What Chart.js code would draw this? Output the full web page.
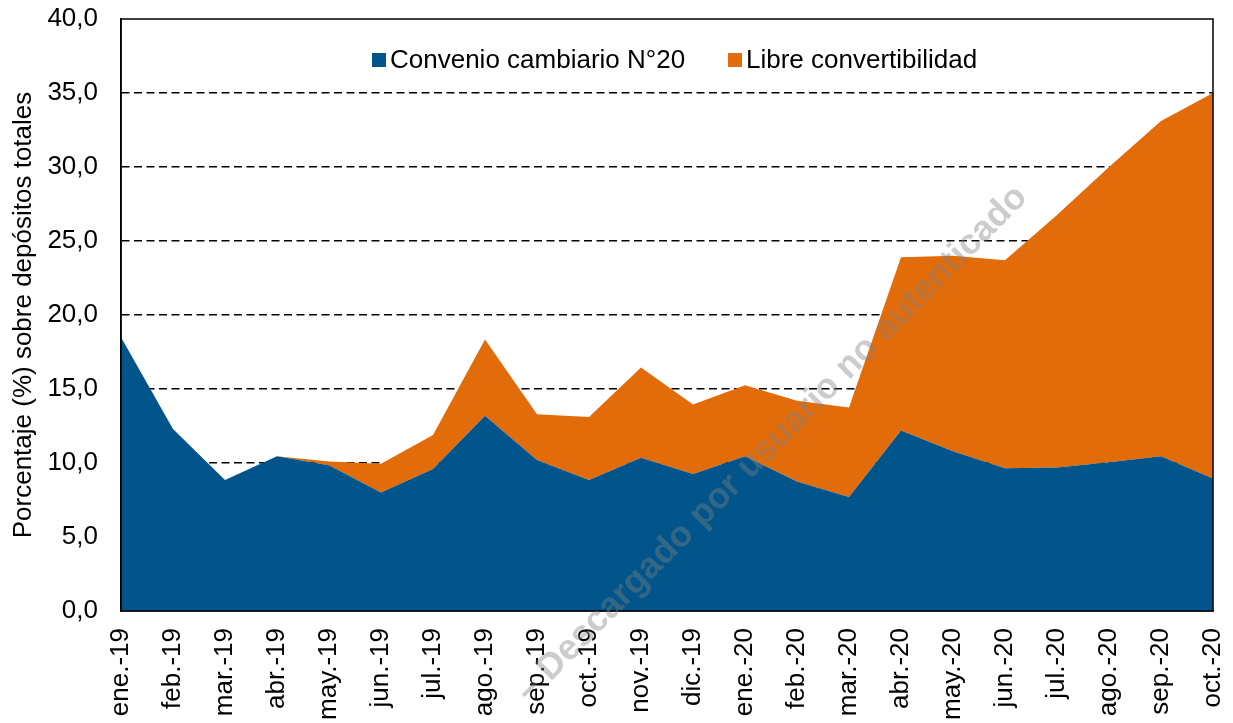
<!DOCTYPE html>
<html>
<head>
<meta charset="utf-8">
<script src="https://cdn.jsdelivr.net/npm/chart.js@4.4.1/dist/chart.umd.min.js"></script>
<style>
html,body{margin:0;padding:0;background:#fff}
#wrap{width:1233px;height:723px}
</style>
</head>
<body>
<div id="wrap"><canvas id="c" width="1233" height="723"></canvas></div>
<script>
// datos
const meses=['ene.-19','feb.-19','mar.-19','abr.-19','may.-19','jun.-19','jul.-19','ago.-19','sep.-19','oct.-19','nov.-19','dic.-19',
 'ene.-20','feb.-20','mar.-20','abr.-20','may.-20','jun.-20','jul.-20','ago.-20','sep.-20','oct.-20'];
const convenio=[18.5,12.3,8.85,10.45,9.85,8.0,9.6,13.2,10.2,8.85,10.35,9.25,10.45,8.75,7.7,12.2,10.8,9.65,9.7,10.05,10.45,8.95];
const libre=[0,0,0,0,0.25,1.95,2.3,5.15,3.1,4.25,6.1,4.7,4.8,5.45,6.05,11.7,13.2,14.05,17.05,19.95,22.65,26.05];
const yTicks=['0,0','5,0','10,0','15,0','20,0','25,0','30,0','35,0','40,0'];
const series=['Convenio cambiario N°20','Libre convertibilidad'];
const colores=['#02558b','#e36c0a'];
const yTitulo='Porcentaje (%) sobre depósitos totales';
const marca='– Descargado por usuario no autenticado';

const F='"Liberation Sans", Arial, sans-serif';

const marco={
 id:'marco',
 afterDatasetsDraw(ch){
  const a=ch.chartArea,c=ch.ctx;
  c.save();c.strokeStyle='#000';c.lineWidth=1.5;
  c.strokeRect(a.left,a.top,a.right-a.left,a.bottom-a.top);
  // leyenda
  c.font='26px '+F;c.textBaseline='middle';c.textAlign='left';
  const L=[{x:372,t:series[0],col:colores[0]},{x:728,t:series[1],col:colores[1]}];
  L.forEach(function(l){
   c.fillStyle=l.col;c.fillRect(l.x,53,14,14);
   c.fillStyle='#000';c.fillText(l.t,l.x+18,61);
  });
  c.restore();
 },
 afterDraw(ch){
  const c=ch.ctx;
  c.save();
  c.translate(772,444);c.rotate(-45.3*Math.PI/180);
  c.font='bold 36px '+F;c.textAlign='center';c.textBaseline='middle';
  c.fillStyle='rgba(128,128,128,0.4)';
  c.fillText(marca,0,0);
  c.restore();
 }
};

new Chart(document.getElementById('c').getContext('2d'),{
 type:'line',
 data:{labels:meses,datasets:[
  {label:series[0],data:convenio,backgroundColor:colores[0],borderColor:colores[0],borderWidth:0,pointRadius:0,fill:'origin',tension:0},
  {label:series[1],data:libre,backgroundColor:colores[1],borderColor:colores[1],borderWidth:0,pointRadius:0,fill:'-1',tension:0}
 ]},
 options:{
  responsive:false,animation:false,devicePixelRatio:1,
  layout:{padding:{left:0,right:20,top:19,bottom:0}},
  plugins:{legend:{display:false},tooltip:{enabled:false}},
  scales:{
   x:{
    offset:false,
    grid:{display:false,drawTicks:false},
    border:{display:true,color:'#000',width:1.5},
    ticks:{color:'#000',font:{family:F,size:26},maxRotation:90,minRotation:90,padding:17,autoSkip:false},
    afterFit(s){s.height=112;s.paddingLeft=0;s.paddingRight=0}
   },
   y:{
    stacked:true,min:0,max:40,
    grid:{drawTicks:false,color:function(x){return (x.tick.value===0||x.tick.value===40)?'rgba(0,0,0,0)':'#000'},lineWidth:1.5},
    border:{display:true,color:'#000',width:1.5,dash:[8,4.5]},
    ticks:{stepSize:5,color:'#000',font:{family:F,size:26},padding:23,callback:function(v,i){return yTicks[i]}},
    title:{display:true,text:yTitulo,color:'#000',font:{family:F,size:26},padding:{top:8,bottom:0}},
    afterFit(s){s.width=121;s.paddingTop=0;s.paddingBottom=0}
   }
  }
 },
 plugins:[marco]
});
</script>
</body>
</html>
